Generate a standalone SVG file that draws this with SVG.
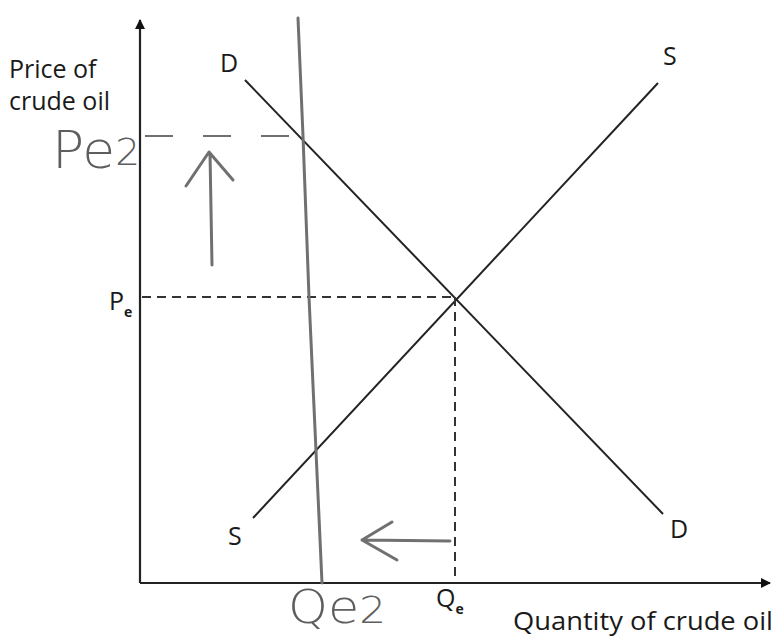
<svg xmlns="http://www.w3.org/2000/svg" width="776" height="639" viewBox="0 0 776 639">
<style>
.lbl{font-family:"Open Sans","Liberation Sans",sans-serif;font-size:25px;fill:#1a1a1a}
.sub{font-size:14px;font-weight:bold}
.hand{font-family:"DejaVu Sans","Liberation Sans",sans-serif;font-weight:200;fill:#5e5e5e}
.ax{stroke:#222;stroke-width:2.2;fill:none}
.crv{stroke:#222;stroke-width:2;fill:none}
.dash{stroke:#333;stroke-width:2;stroke-dasharray:9,6;fill:none}
.gray{stroke:#707070;stroke-width:3;fill:none;stroke-linecap:round;stroke-linejoin:round}
</style>
<defs>
<marker id="ah" markerWidth="10" markerHeight="10" refX="9" refY="5" orient="auto" markerUnits="userSpaceOnUse">
<path d="M0,0 L10,5 L0,10 Z" fill="#111"/>
</marker>
</defs>
<rect width="776" height="639" fill="#fff"/>
<g id="axes">
<line class="ax" x1="140" y1="583" x2="140" y2="20" marker-end="url(#ah)"/>
<line class="ax" x1="140" y1="583" x2="770" y2="583" marker-end="url(#ah)"/>
<text class="lbl" x="9" y="78">Price of</text>
<text class="lbl" x="9" y="110">crude oil</text>
<text class="lbl" x="513" y="630" textLength="260" lengthAdjust="spacingAndGlyphs">Quantity of crude oil</text>
</g>
<g id="demand">
<line class="crv" x1="245" y1="80" x2="663" y2="514"/>
<text class="lbl" x="220" y="72">D</text>
<text class="lbl" x="670" y="538">D</text>
</g>
<g id="supply">
<line class="crv" x1="253" y1="518" x2="658" y2="83"/>
<text class="lbl" x="663" y="65">S</text>
<text class="lbl" x="228" y="545">S</text>
</g>
<g id="equilibrium">
<line class="dash" x1="142" y1="297" x2="455" y2="297"/>
<line class="dash" x1="455" y1="297" x2="455" y2="582"/>
<text class="lbl" x="109" y="310">P<tspan class="sub" dy="7">e</tspan></text>
<text class="lbl" x="436" y="607">Q<tspan class="sub" dy="7">e</tspan></text>
</g>
<g id="new-supply">
<path class="gray" d="M298,18 L303,136 L309,297 L322,583" stroke-width="4"/>
<line x1="145" y1="136" x2="303" y2="136" stroke="#707070" stroke-width="2" stroke-dasharray="28,30"/>
<text class="hand" x="52" y="168" font-size="52" textLength="88" lengthAdjust="spacingAndGlyphs">Pe<tspan font-size="38" dy="-3">2</tspan></text>
<text class="hand" x="288" y="623" font-size="46" textLength="98" lengthAdjust="spacingAndGlyphs">Qe<tspan font-size="38">2</tspan></text>
</g>
<g id="shifts">
<path class="gray" d="M212,265 L210,153 M186,186 L209,152 L233,180"/>
<path class="gray" d="M450,541 L362,540 M392,522 L362,540 L397,560" stroke-width="2.5"/>
</g>
</svg>
